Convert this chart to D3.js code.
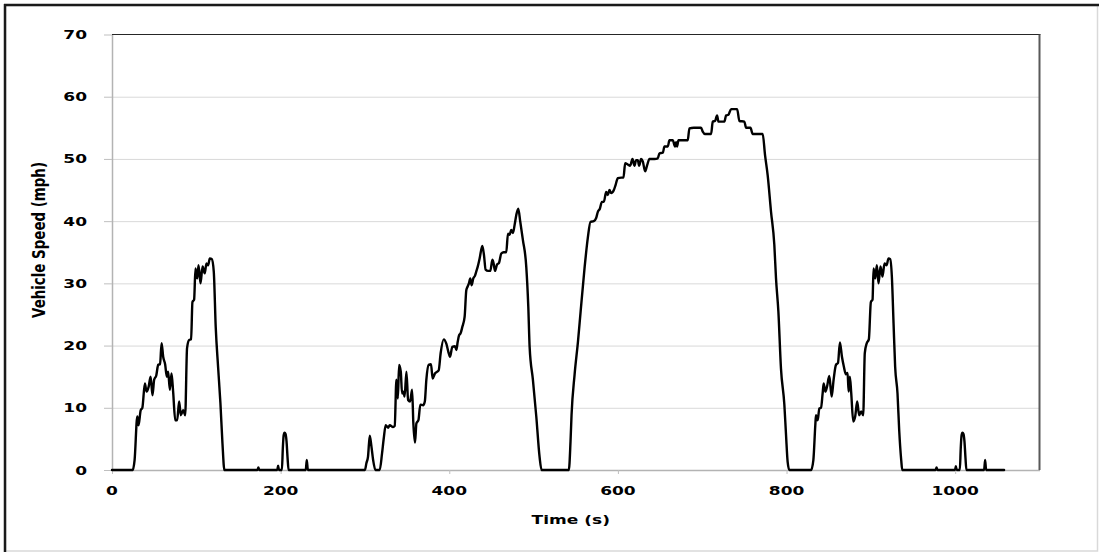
<!DOCTYPE html>
<html>
<head>
<meta charset="utf-8">
<script src="https://cdn.jsdelivr.net/npm/d3@7"></script>
<style>
  html, body { margin: 0; padding: 0; background: #ffffff; }
  svg { display: block; }
  text { font-family: "DejaVu Sans", Verdana, sans-serif; font-weight: bold; fill: #000; }
</style>
</head>
<body>
<svg id="chart" width="1099" height="553"></svg>
<script>
// ---------------- data ----------------
const xTicks = [0, 200, 400, 600, 800, 1000];
const yTicks = [0, 10, 20, 30, 40, 50, 60, 70];
const xTitle = "Time (s)";
const yTitle = "Vehicle Speed (mph)";

const time = [
  0, 24.5, 26.8, 30, 31.5, 34, 36, 39, 41, 43.5, 45.8, 48, 50, 52.5, 54.8, 57, 58.8, 60.7, 63, 65,
  66.6, 68.6, 70.6, 72.6, 75, 77.3, 79.6, 81.6, 84.4, 86.8, 89, 91.5, 93.8, 95.4, 97.4, 99, 101, 102.6, 105, 107.4,
  110, 112, 114, 116, 118.3, 120.7, 123, 125.8, 128.6, 131, 133.3, 172.5, 173.6, 174.7, 196, 197, 198, 201.5, 202.6, 203.6,
  204.7, 205.8, 207, 208.2, 209.4, 229.8, 231, 232.3,
  300, 301.7, 303.6, 305.7, 307.7, 309.7, 312.4, 317.5, 320.3, 322.3, 324.6, 327.4, 329.4, 333.3, 335.3, 337.3, 339, 340.5, 342.5, 344,
  345.7, 347, 349.2, 351.2, 353.5, 355.9, 357.4, 359.4, 361, 363.4, 365.7, 369, 371, 372.8, 375.6, 378.3, 380.3, 383, 384.6, 387.4,
  389.8, 393.4, 396.5, 398.9, 400.9, 403.6, 406.8, 408.4, 410, 411.5, 413.5, 415.5, 418.2, 420.2, 421.8, 423.3, 424.9, 426.5, 428.5, 430.4,
  432, 433.6, 436, 439.2, 441.2, 443.1, 446, 448.7, 451.1, 452.6, 454.2, 456.6, 459, 461.7, 464.5, 467.6, 469.6, 471.6, 473.5, 475.5,
  477.5, 479.5, 481.8, 484.2, 487.3, 491.3, 493.7, 495.3, 499.2, 503.2, 507.1, 509.5,
  541.8, 543.8, 545, 548.6, 552.6, 555.8, 560.4, 564.3, 567.5, 571.4, 574.2, 576.2, 578.6, 581, 583.3, 586.1, 588, 590, 592, 595.2,
  597.2, 599.9, 603.9, 606.6, 608.6, 611.7, 614.5, 617.3, 619.6, 621.6, 623.6, 625.2, 627.5, 629.5, 632.3, 634.7, 637.4, 643.4, 647.3, 649.3,
  653.3, 655.2, 659.2, 661.1, 665, 667.8, 669, 670.2, 671.8, 676.9, 682.8, 684.8, 690, 696.7, 698.6, 700.6, 703.4, 708.5, 710.5, 712.5,
  715.2, 717.6, 719.2, 726.3, 728.3, 731.1, 734.2, 741.4, 744.1, 750, 752, 757.2, 759.9, 771.7, 774.5, 777.6, 781.6, 785.5, 787.5, 790.3,
  793.4, 797.4, 799.4, 801.3, 803.3,
  829.1, 831.8, 834.1, 834.9, 836.9, 838.9, 840.9, 842.8, 844, 846, 848, 850.7, 853.5, 855.8, 858.6, 861, 863.3, 865.7, 868, 870.4,
  872.4, 873.6, 875.1, 876.7, 879.1, 881.4, 883.8, 886.1, 888.5, 890.9, 892.8, 895.2, 897.6, 900, 902, 903.2, 905.1, 907.1, 909.1, 911.4,
  913.8, 916.2, 918.5, 921, 922.9, 924.9, 926.9, 928.8, 931.6, 933.6, 936, 937.2, 976.8, 977.9, 979, 999.8, 1000.8, 1001.8,
  1005.5, 1006.6, 1007.6, 1008.7, 1009.8, 1011, 1012.2, 1013.3, 1034.3, 1035.5, 1036.7, 1058
];
const speed = [
  0, 0, 1.6, 8.6, 7.2, 9.6, 10, 13.9, 12.6, 13.4, 15, 12, 14.5, 15.2, 16.9, 17, 20.4, 18.2, 17, 15,
  15.8, 12.9, 15.5, 12.4, 8, 8, 11, 8.8, 9.6, 8.8, 19.6, 20.9, 21, 27, 27.4, 32.4, 30.8, 32.9, 30, 32.7,
  31.6, 33.2, 32.9, 34, 33.9, 31.9, 23, 16.6, 10.7, 4.3, 0, 0, 0.4, 0, 0, 0.7, 0, 0, 3.5, 5.6,
  6, 5.8, 4.6, 2, 0, 0, 1.6, 0,
  0, 1.1, 2.1, 5.5, 3.75, 1.6, 0, 0, 2.7, 5.1, 7.2, 6.8, 7.2, 6.9, 7.1, 14.5, 11.5, 16.9, 15.8, 12.3,
  12.6, 11.8, 15.8, 11.25, 11, 12.9, 7.5, 4.4, 7.5, 8, 10.5, 10.4, 11, 14.5, 16.9, 17, 14.7, 15.5, 15.7, 16,
  18.8, 21, 20.3, 19, 18.2, 19.8, 19.9, 19.3, 20.6, 21.6, 22, 23, 24.6, 28.9, 29.5, 30, 30.8, 29.7, 30.8, 31.2,
  31.9, 32.6, 34, 36, 34.5, 32.2, 32, 32, 33.8, 33.2, 32, 33, 33.3, 34.8, 35, 35, 38, 37.8, 38.6, 38.1,
  39.4, 41, 42, 39.9, 37, 32.7, 26.3, 19.8, 14.5, 8.6, 2.1, 0,
  0, 4.6, 8.8, 15.3, 20.6, 25.5, 32.4, 37.3, 39.9, 40, 40.5, 41.5, 42, 43.1, 43.1, 44.7, 44.2, 45, 44.5, 45,
  45.8, 46.9, 47, 47, 49.3, 49.1, 48.9, 50, 48.9, 49.8, 49.8, 48.9, 50, 49.6, 48, 49, 50, 50, 50.1, 50.9,
  51, 52, 52, 53, 53, 52, 52.7, 52, 53, 53, 53, 54.9, 55, 55, 55, 54.4, 54, 54, 54, 56,
  56.1, 57, 56, 56, 57, 57.1, 58, 58, 56.1, 56, 55, 55, 54, 54, 50.6, 47.4, 41.5, 36.2, 30.8, 25.5,
  16.3, 10.5, 5.6, 1.3, 0,
  0, 1.6, 7.2, 8.8, 8, 9.9, 10, 12.3, 13.9, 12.6, 13.4, 15.1, 11.8, 14.5, 16.9, 17.2, 20.5, 18.2, 16.6, 15.4,
  15.6, 12.6, 15, 12.4, 7.8, 8.6, 11, 8.8, 9.4, 8.8, 18.8, 20.4, 21, 27, 27.4, 32.4, 30.8, 32.9, 30, 32.7,
  31.1, 33.2, 32.9, 34, 33.9, 31.1, 23.6, 16.6, 12.3, 6.4, 1.6, 0, 0, 0.4, 0, 0, 0.6, 0,
  0, 3.5, 5.6, 6, 5.8, 4.6, 2, 0, 0, 1.6, 0, 0
];

// ---------------- layout ----------------
const W = 1099, H = 553;
const plot = { left: 112, right: 1039.5, top: 34.5, bottom: 470 };
const stretch = 1.42;

const svg = d3.select("#chart");

const x = d3.scaleLinear().domain([0, 1100]).range([plot.left, plot.right]);
const y = d3.scaleLinear().domain([0, 70]).range([plot.bottom, plot.top]);

// outer chart frame
svg.append("rect").attr("x", 5.5).attr("y", 5.5).attr("width", 1092).attr("height", 545.5)
  .attr("fill", "#fff").attr("stroke", "#d9d9d9").attr("stroke-width", 1.5);
svg.append("line").attr("x1", 4).attr("x2", W).attr("y1", 5).attr("y2", 5)
  .attr("stroke", "#1a1a1a").attr("stroke-width", 2.5);
svg.append("line").attr("x1", 5).attr("x2", 5).attr("y1", 4).attr("y2", 552)
  .attr("stroke", "#1a1a1a").attr("stroke-width", 2.5);

// gridlines
const grid = svg.append("g")
  .attr("transform", `translate(${plot.left},0)`)
  .call(d3.axisLeft(y).tickValues(yTicks.filter(v => v > 0 && v < 70))
    .tickSize(-(plot.right - plot.left)).tickFormat(""));
grid.select(".domain").remove();
grid.selectAll("line").attr("stroke", "#d9d9d9").attr("stroke-width", 1);

// y axis (ticks outside)
const yAxis = svg.append("g")
  .attr("transform", `translate(${plot.left},0)`)
  .call(d3.axisLeft(y).tickValues(yTicks).tickSize(8).tickSizeOuter(0).tickFormat(""));
yAxis.selectAll("line").attr("stroke", "#bfbfbf").attr("stroke-width", 1);
yAxis.select(".domain").attr("stroke", "#b3b3b3").attr("stroke-width", 1.5);

// x axis
const xAxis = svg.append("g")
  .attr("transform", `translate(0,${plot.bottom})`)
  .call(d3.axisBottom(x).tickValues(xTicks).tickSize(4).tickSizeOuter(0).tickFormat(""));
xAxis.selectAll("line").attr("stroke", "#bfbfbf").attr("stroke-width", 1);
xAxis.select(".domain").attr("stroke", "#b3b3b3").attr("stroke-width", 1.5);

// plot frame top & right
svg.append("line").attr("x1", plot.left).attr("x2", plot.right + 1).attr("y1", plot.top).attr("y2", plot.top)
  .attr("stroke", "#262626").attr("stroke-width", 1.2);
svg.append("line").attr("x1", plot.right).attr("x2", plot.right).attr("y1", plot.top).attr("y2", plot.bottom)
  .attr("stroke", "#595959").attr("stroke-width", 2);

// y tick labels
svg.append("g").selectAll("text").data(yTicks).join("text")
  .attr("transform", d => `translate(87,${y(d) + 4.5}) scale(${stretch},1)`)
  .attr("text-anchor", "end")
  .attr("font-size", 12)
  .text(d => d);

// x tick labels
svg.append("g").selectAll("text").data(xTicks).join("text")
  .attr("transform", d => `translate(${x(d)},${plot.bottom + 25}) scale(${stretch},1)`)
  .attr("text-anchor", "middle")
  .attr("font-size", 12)
  .text(d => d);

// axis titles
svg.append("text")
  .attr("transform", `translate(${(plot.left + plot.right) / 2 - 5},524) scale(${stretch},1)`)
  .attr("text-anchor", "middle")
  .attr("font-size", 12)
  .text(xTitle);

svg.append("text")
  .attr("transform", `translate(45,240) scale(1.35,1) rotate(-90)`)
  .attr("text-anchor", "middle")
  .attr("font-family", "'Liberation Sans', Arial, sans-serif")
  .attr("font-size", 13)
  .attr("textLength", 156)
  .attr("lengthAdjust", "spacingAndGlyphs")
  .text(yTitle);

// data line
const pts = time.map((t, i) => [t, speed[i]]);
const line = d3.line().x(d => x(d[0])).y(d => y(d[1])).curve(d3.curveMonotoneX);
svg.append("path").datum(pts)
  .attr("d", line)
  .attr("fill", "none")
  .attr("stroke", "#000")
  .attr("stroke-width", 2.4)
  .attr("stroke-linejoin", "round")
  .attr("stroke-linecap", "round");
</script>
</body>
</html>
